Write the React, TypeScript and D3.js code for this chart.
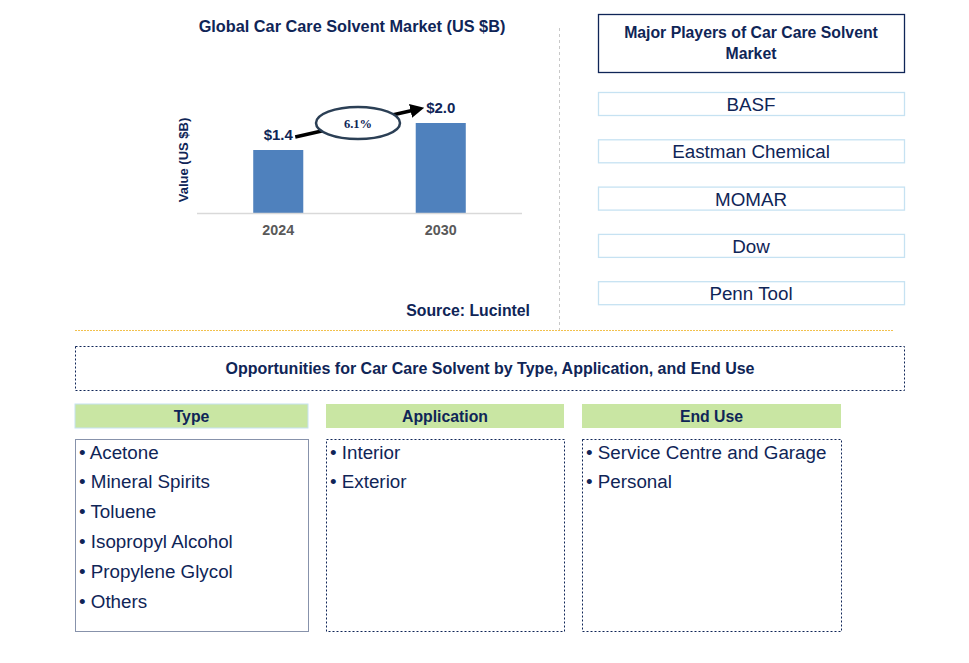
import React from "react";
import * as d3 from "d3";

const years = ["2024", "2030"];
const values = [1.4, 2.0];
const valueLabels = ["$1.4", "$2.0"];
const cagrLabel = "6.1%";
const chartTitle = "Global Car Care Solvent Market (US $B)";
const yAxisLabel = "Value (US $B)";
const sourceLabel = "Source: Lucintel";
const playersTitle = ["Major Players of Car Care Solvent", "Market"];
const players = ["BASF", "Eastman Chemical", "MOMAR", "Dow", "Penn Tool"];
const oppTitle = "Opportunities for Car Care Solvent by Type, Application, and End Use";
const segmentTitles = ["Type", "Application", "End Use"];
const typeItems = ["Acetone", "Mineral Spirits", "Toluene", "Isopropyl Alcohol", "Propylene Glycol", "Others"];
const applicationItems = ["Interior", "Exterior"];
const endUseItems = ["Service Centre and Garage", "Personal"];

const NAVY = "#0f2557";
const FONT = "'Liberation Sans', Arial, Helvetica, sans-serif";

export default function App() {
  const W = 969, H = 663;
  const x = d3.scaleBand<string>().domain(years).range([197, 522]).paddingInner(0.692).paddingOuter(0.346);
  const y = d3.scaleLinear().domain([0, 2.8]).range([213, 87]);

  const cx0 = (x(years[0]) ?? 0) + x.bandwidth() / 2;
  const cx1 = (x(years[1]) ?? 0) + x.bandwidth() / 2;

  const segCols = [
    { x0: 75, x1: 308, items: typeItems, thin: true },
    { x0: 326, x1: 564, items: applicationItems, thin: false },
    { x0: 582, x1: 841, items: endUseItems, thin: false },
  ];

  return (
    <svg width={W} height={H} style={{ position: "absolute", left: 0, top: 0, background: "#fff" }} fontFamily={FONT}>
      <defs>
        <marker id="arr" viewBox="0 0 10 10" refX="6" refY="5" markerWidth="4" markerHeight="4" orient="auto">
          <path d="M0,0 L10,5 L0,10 z" fill="#000" />
        </marker>
      </defs>
      {/* chart title */}
      <text x={352} y={32} textAnchor="middle" fontSize={16.3} fontWeight="bold" fill={NAVY}>{chartTitle}</text>
      {/* y axis label */}
      <text transform="translate(188,160) rotate(-90)" textAnchor="middle" fontSize={13} fontWeight="bold" fill={NAVY}>{yAxisLabel}</text>
      {/* bars */}
      {years.map((yr, i) => (
        <rect key={yr} x={x(yr)} y={y(values[i])} width={x.bandwidth()} height={y(0) - y(values[i])} fill="#4f81bd" />
      ))}
      <line x1={197} x2={522} y1={y(0) + 0.5} y2={y(0) + 0.5} stroke="#d9d9d9" strokeWidth={1.5} />
      {years.map((yr) => (
        <text key={yr} x={(x(yr) ?? 0) + x.bandwidth() / 2} y={235} textAnchor="middle" fontSize={14.3} fontWeight="bold" fill="#595959">{yr}</text>
      ))}
      {years.map((yr, i) => (
        <text key={"v" + yr} x={(x(yr) ?? 0) + x.bandwidth() / 2} y={y(values[i]) - 10} textAnchor="middle" fontSize={15} fontWeight="bold" fill={NAVY}>{valueLabels[i]}</text>
      ))}
      {/* CAGR arrow */}
      <line x1={cx0 + 17} y1={y(values[0]) - 13} x2={cx1 - 22} y2={y(values[1]) - 14} stroke="#000" strokeWidth={3.5} markerEnd="url(#arr)" />
      <ellipse cx={358} cy={123} rx={42} ry={16} fill="#fff" stroke="#2b3f55" strokeWidth={2.5} />
      <text x={358} y={127.5} textAnchor="middle" fontSize={12.5} fontWeight="bold" fill={NAVY} fontFamily="'Liberation Serif', 'Times New Roman', serif">{cagrLabel}</text>
      <text x={530} y={316} textAnchor="end" fontSize={15.8} fontWeight="bold" fill={NAVY}>{sourceLabel}</text>
      {/* dividers */}
      <line x1={559.5} x2={559.5} y1={28} y2={332} stroke="#c8c8c8" strokeWidth={1} strokeDasharray="3,3" />
      <line x1={75} x2={894} y1={330.5} y2={330.5} stroke="#f2c14e" strokeWidth={1.2} strokeDasharray="2,1" />
      {/* players */}
      <rect x={598.5} y={14.5} width={306} height={58} fill="#fff" stroke={NAVY} strokeWidth={1.3} />
      {playersTitle.map((t, i) => (
        <text key={t} x={751} y={38 + i * 21} textAnchor="middle" fontSize={15.8} fontWeight="bold" fill={NAVY}>{t}</text>
      ))}
      {players.map((p, i) => {
        const top = 92.5 + i * 47.3;
        return (
          <g key={p}>
            <rect x={598.5} y={top} width={306} height={23} fill="#fff" stroke="#c6e2f2" strokeWidth={1.3} />
            <text x={751} y={top + 18.5} textAnchor="middle" fontSize={18.8} fill={NAVY}>{p}</text>
          </g>
        );
      })}
      {/* opportunities */}
      <rect x={75.5} y={346.5} width={829} height={44} fill="none" stroke={NAVY} strokeWidth={1} strokeDasharray="2,2" />
      <text x={490} y={374} textAnchor="middle" fontSize={16} fontWeight="bold" fill={NAVY}>{oppTitle}</text>
      {segCols.map((c, ci) => (
        <g key={segmentTitles[ci]}>
          <rect x={c.x0} y={404} width={c.x1 - c.x0} height={24} fill="#c9e6a3" stroke={ci === 0 ? "#c6e2f2" : "none"} strokeWidth={1} />
          <text x={(c.x0 + c.x1) / 2} y={421.5} textAnchor="middle" fontSize={15.8} fontWeight="bold" fill={NAVY}>{segmentTitles[ci]}</text>
          <rect x={c.x0 + 0.5} y={439.5} width={c.x1 - c.x0} height={192} fill="none" stroke={NAVY} strokeWidth={1} strokeDasharray={c.thin ? "1,1" : "2,2"} />
          {c.items.map((it, k) => (
            <text key={it} x={c.x0 + 4} y={458.5 + k * 29.8} fontSize={18.8} fill={NAVY}>{"• " + it}</text>
          ))}
        </g>
      ))}
    </svg>
  );
}
